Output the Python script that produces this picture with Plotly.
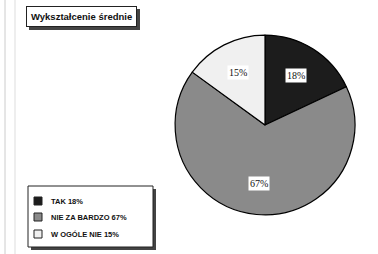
import math
import plotly.graph_objects as go

categories = ["TAK", "NIE ZA BARDZO", "W OGÓLE NIE"]
values = [18, 67, 15]
colors = ["#1c1c1c", "#8a8a8a", "#f0f0f0"]
title_text = "Wykształcenie średnie"

W, H = 378, 254
legend_labels = [f"{c} {v}%" for c, v in zip(categories, values)]

dom_x = [0.4577, 0.9444]
dom_y = [0.154, 0.862]

fig = go.Figure()
fig.add_trace(go.Pie(
    labels=legend_labels,
    values=values,
    marker=dict(colors=colors, line=dict(color="#000000", width=1.2)),
    sort=False,
    direction="clockwise",
    rotation=0,
    textinfo="none",
    hoverinfo="label",
    domain=dict(x=dom_x, y=dom_y),
    showlegend=False,
))

# label positions derived from the data (mid-angle of each slice)
cx = (dom_x[0] + dom_x[1]) / 2 * W
cy = (dom_y[0] + dom_y[1]) / 2 * H
rad = min((dom_x[1] - dom_x[0]) * W, (dom_y[1] - dom_y[0]) * H) / 2
total = sum(values)
cum = 0
annotations = []
for v in values:
    mid = 90 - (cum + v / 2) / total * 360
    cum += v
    r = rad * 0.65
    px = cx + r * math.cos(math.radians(mid))
    py = cy + r * math.sin(math.radians(mid))
    annotations.append(dict(
        x=px / W, y=py / H, xref="paper", yref="paper",
        xanchor="center", yanchor="middle",
        text=f"{v}%", showarrow=False,
        font=dict(family="Liberation Serif", size=10, color="#111"),
        bgcolor="#ffffff", borderpad=1,
    ))

# title box
annotations.append(dict(
    x=26 / W, y=1 - 6 / H, xref="paper", yref="paper",
    xanchor="left", yanchor="top",
    text=f"<b>{title_text}</b>", showarrow=False,
    font=dict(family="Liberation Sans", size=9.5, color="#111"),
    bgcolor="#ffffff", bordercolor="#222", borderwidth=1, borderpad=4,
))

shapes = [
    # shadow of title box
    dict(type="rect", xref="paper", yref="paper",
         x0=29 / W, x1=140 / W, y0=1 - 30 / H, y1=1 - 9 / H,
         fillcolor="#444", line=dict(width=0), layer="below"),
    # shadow of legend box
    dict(type="rect", xref="paper", yref="paper",
         x0=31 / W, x1=156 / W, y0=1 - 250 / H, y1=1 - 189 / H,
         fillcolor="#444", line=dict(width=0), layer="below"),
    # legend box
    dict(type="rect", xref="paper", yref="paper",
         x0=28 / W, x1=153 / W, y0=1 - 247 / H, y1=1 - 186 / H,
         fillcolor="#ffffff", line=dict(color="#222", width=1), layer="below"),
    # scan edge lines
    dict(type="line", xref="paper", yref="paper", x0=5 / W, x1=5 / W, y0=0, y1=1,
         line=dict(color="#cccccc", width=1)),
    dict(type="line", xref="paper", yref="paper", x0=15 / W, x1=15 / W, y0=0, y1=1,
         line=dict(color="#dddddd", width=1)),
]

# custom legend entries (colours and texts from the data arrays)
row_y = [201, 217, 234]
for lab, col, yy in zip(legend_labels, colors, row_y):
    shapes.append(dict(
        type="rect", xref="paper", yref="paper",
        x0=34 / W, x1=42 / W, y0=1 - (yy + 4) / H, y1=1 - (yy - 4) / H,
        fillcolor=col, line=dict(color="#222", width=1),
    ))
    annotations.append(dict(
        x=49 / W, y=1 - yy / H, xref="paper", yref="paper",
        xanchor="left", yanchor="middle",
        text=f"<b>{lab}</b>", showarrow=False,
        font=dict(family="Liberation Sans", size=7.5, color="#111"),
    ))

fig.update_layout(
    width=W, height=H,
    margin=dict(l=0, r=0, t=0, b=0, autoexpand=False),
    paper_bgcolor="#ffffff",
    plot_bgcolor="#ffffff",
    showlegend=False,
    annotations=annotations,
    shapes=shapes,
)

fig.write_html(
    "out.html",
    config={"displayModeBar": False},
    post_script="document.body.style.margin='0';document.body.style.overflow='hidden';",
)
